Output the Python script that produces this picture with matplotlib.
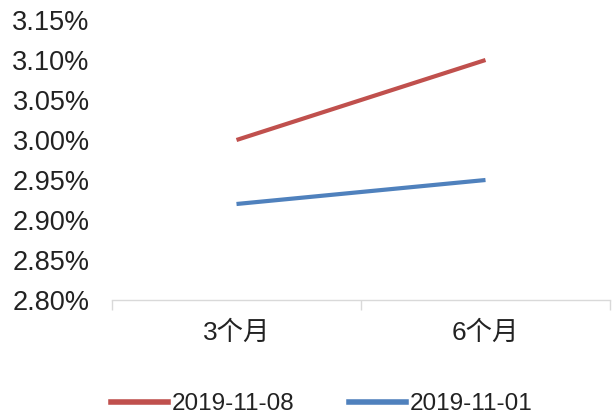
import numpy as np
import matplotlib
matplotlib.use("Agg")
from matplotlib import pyplot as plt
from matplotlib.lines import Line2D

categories = ["3个月", "6个月"]
series_names = ["2019-11-08", "2019-11-01"]
rate_1108 = [3.00, 3.10]
rate_1101 = [2.92, 2.95]
y_ticks = [2.80, 2.85, 2.90, 2.95, 3.00, 3.05, 3.10, 3.15]

plt.rcParams['font.family'] = ['Liberation Sans', 'Noto Sans CJK SC', 'DejaVu Sans']

fig = plt.figure(figsize=(6.16, 4.19), dpi=100)
ax = fig.add_axes([112 / 616, 1 - 300 / 419, 498 / 616, 280 / 419])

x = np.arange(len(categories))
red = "#C0504D"
blue = "#4F81BD"
ax.plot(x, rate_1108, color=red, linewidth=3, solid_capstyle="butt")
ax.plot(x, rate_1101, color=blue, linewidth=3, solid_capstyle="butt")

ax.set_xlim(-0.5, len(categories) - 0.5)
ax.set_ylim(y_ticks[0], y_ticks[-1])
ax.set_yticks(y_ticks)
ax.set_yticklabels([f"{v:.2f}%" for v in y_ticks])
ax.set_xticks(x)
ax.set_xticklabels(categories)
ax.set_xticks(np.arange(len(categories) + 1) - 0.5, minor=True)

for s in ["top", "right", "left"]:
    ax.spines[s].set_visible(False)
ax.spines["bottom"].set_color("#D9D9D9")
ax.spines["bottom"].set_linewidth(1)

ax.tick_params(axis="y", length=0, labelsize=19.5, pad=16, colors="#222222")
ax.tick_params(axis="x", which="major", length=0, labelsize=19, pad=15, colors="#222222")
ax.tick_params(axis="x", which="minor", length=7, width=1, color="#D9D9D9")

handles = [Line2D([], [], color=red, linewidth=4),
           Line2D([], [], color=blue, linewidth=4)]
fig.legend(handles, series_names, loc="center", ncol=2, frameon=False,
           fontsize=17.5, bbox_to_anchor=(0.522, 1 - 404 / 419), handlelength=2.35,
           handletextpad=0.15, columnspacing=2.25, labelcolor="#222222")

fig.savefig("out.png", dpi=100, facecolor="white")
